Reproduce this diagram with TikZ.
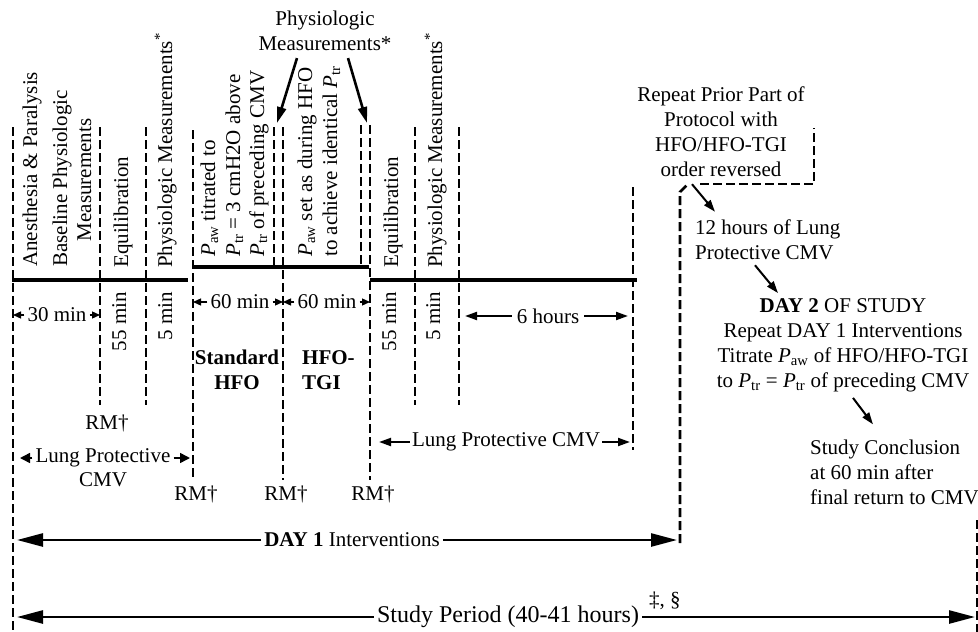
\documentclass[tikz,border=0pt]{standalone}
\usepackage{fontspec}
\setmainfont{Liberation Serif}
\usepackage{tikz}
\usetikzlibrary{arrows.meta,positioning,calc}
\newcommand{\Paw}{\textit{P}\textsubscript{aw}}
\newcommand{\Ptr}{\textit{P}\textsubscript{tr}}
\tikzset{
  txt/.style={font=\fontsize{21}{25}\selectfont, inner sep=0pt, align=center},
  boldtxt/.style={txt, font=\fontsize{21}{25}\selectfont\bfseries},
  vtxt/.style={txt, rotate=90, text height=14.5pt, text depth=4.5pt},
  phase/.style={vtxt, anchor=west},
  dur/.style={vtxt, anchor=east},
  bar/.style={line width=4pt},
  guide/.style={line width=2.6pt, dash pattern=on 9pt off 4pt},
  tinyarrow/.style={-{Triangle[length=8pt,width=7pt]}, line width=1.3pt},
  lpcarrow/.style={-{Triangle[length=10pt,width=10pt]}, line width=1.5pt},
  midarrow/.style={-{Triangle[length=12pt,width=8pt]}, line width=2pt},
  bigarrow/.style={-{Triangle[length=26pt,width=13pt]}, line width=2.6pt},
  callout/.style={-{Triangle[length=16pt,width=9pt]}, line width=2.6pt},
  flowarrow/.style={-{Triangle[length=12pt,width=8pt]}, line width=2pt}
}
\begin{document}
\begin{tikzpicture}[x=1pt,y=-1pt]
  \useasboundingbox (0,0) rectangle (978,632);

  \coordinate (b0) at (13,0);
  \coordinate (b1) at (100,0);
  \coordinate (b3) at (193,0);
  \coordinate (b4) at (283,0);
  \coordinate (b5) at (370,0);
  \coordinate (b7) at (459,0);
  \coordinate (b8) at (633,0);
  \coordinate (b9) at (680,0);
  \coordinate (b10) at (977,0);

  \draw[bar] (12,280) -- (188,280);
  \draw[bar] (192,267) -- (369,267);
  \draw[bar] (370,280) -- (637,280);

  \draw[guide] (13,127) -- (13,632);
  \draw[guide] (100,127) -- (100,405);
  \draw[guide] (146,127) -- (146,405);
  \draw[guide] (193,130) -- (193,480);
  \draw[guide] (274,127) -- (274,267);
  \draw[guide] (283,127) -- (283,480);
  \draw[guide] (361,125) -- (361,267);
  \draw[guide] (370,125) -- (370,480);
  \draw[guide] (415,127) -- (415,405);
  \draw[guide] (459,127) -- (459,405);
  \draw[guide] (633,187) -- (633,450);
  \draw[guide] (680,543) -- (680,192) -- (688,184);
  \draw[guide] (700,184) -- (814,184) -- (814,128);
  \draw[guide] (977,520) -- (977,632);

  \node[phase] (anest) at (32,267) {Anesthesia \& Paralysis};
  \node[phase] (basel) at (62,267) {Baseline Physiologic};
  \node[vtxt] (basem) at (86,180) {Measurements};
  \node[phase] (equila) at (123,268) {Equilibration};
  \node[phase] (physa) at (167,268) {Physiologic Measurements\textsuperscript{*}};
  \node[phase] (titra) at (210,257) {\Paw{} titrated to};
  \node[phase] (titrb) at (235,257) {\Ptr{} = 3 cmH2O above};
  \node[phase] (titrc) at (259,257) {\Ptr{} of preceding CMV};
  \node[phase] (tgia) at (307,257) {\Paw{} set as during HFO};
  \node[phase] (tgib) at (332,257) {to achieve identical \Ptr};
  \node[phase] (equilb) at (393,268) {Equilibration};
  \node[phase] (physb) at (437,268) {Physiologic Measurements\textsuperscript{*}};

  \node[txt] (pm) at (325,31) {Physiologic\\Measurements*};
  \coordinate (pmL) at (277,123);
  \coordinate (pmR) at (367,123);
  \draw[callout] ([shift={(-28,7)}]pm.south) -- (pmL);
  \draw[callout] ([shift={(23,7)}]pm.south) -- (pmR);

  \node[txt, fill=white, inner xsep=3pt] (min30) at (57,315) {30 min};
  \draw[tinyarrow] (min30.west) -- (min30 -| b0);
  \draw[tinyarrow] (min30.east) -- (min30 -| b1);
  \node[dur] (eqmina) at (121,292) {55 min};
  \node[dur] (pmmina) at (167,292) {5 min};
  \node[txt, fill=white, inner xsep=3pt] (min60a) at (240,302) {60 min};
  \draw[tinyarrow] (min60a.west) -- (min60a -| b3);
  \draw[tinyarrow] (min60a.east) -- (min60a -| b4);
  \node[txt, fill=white, inner xsep=3pt] (min60b) at (327,302) {60 min};
  \draw[tinyarrow] (min60b.west) -- (min60b -| b4);
  \draw[tinyarrow] (min60b.east) -- (min60b -| b5);
  \node[dur] (eqminb) at (391,292) {55 min};
  \node[dur] (pmminb) at (435,292) {5 min};
  \node[txt] (hours) at (548,316) {6 hours};
  \draw[midarrow, shorten <=5pt, shorten >=6pt] (hours.west) -- (hours -| b7);
  \draw[midarrow, shorten <=5pt, shorten >=5pt] (hours.east) -- (hours -| b8);

  \node[boldtxt] (std) at (237,370) {Standard\\HFO};
  \node[boldtxt, align=left, anchor=west] (tgi) at (302,370) {HFO-\\TGI};

  \node[txt] (rma) at (107,423) {RM†};
  \node[txt] (rmb) at (196,494) {RM†};
  \node[txt] (rmc) at (286,494) {RM†};
  \node[txt] (rmd) at (373,494) {RM†};

  \node[txt] (lpca) at (103,458) {Lung Protective};
  \node[txt, below=5pt of lpca] (lpcb) {CMV};
  \draw[lpcarrow, shorten <=3pt, shorten >=7pt] (lpca.west) -- (lpca -| b0);
  \draw[lpcarrow, shorten <=3pt, shorten >=3pt] (lpca.east) -- (lpca -| b3);
  \node[txt] (lpcr) at (506,442) {Lung Protective CMV};
  \draw[midarrow, shorten <=2pt, shorten >=9pt] (lpcr.west) -- (lpcr -| b5);
  \draw[midarrow, shorten <=2pt, shorten >=3pt] (lpcr.east) -- (lpcr -| b8);

  \node[txt] (dayone) at (352,540) {\textbf{DAY 1} Interventions};
  \draw[bigarrow, shorten <=3pt, shorten >=4pt] (dayone.west) -- (dayone -| b0);
  \draw[bigarrow, shorten <=3pt, shorten >=3pt] (dayone.east) -- (dayone -| b9);
  \node[txt, font=\fontsize{24}{28}\selectfont] (study) at (508,617) {Study Period (40-41 hours)};
  \node[txt, anchor=west] (fnote) at (649,601) {‡, §};
  \draw[bigarrow, shorten <=3pt, shorten >=4pt] (study.west) -- (study -| b0);
  \draw[bigarrow, shorten <=3pt, shorten >=2pt] (study.east) -- (study -| b10);

  \node[txt] (rep) at (721,132) {Repeat Prior Part of\\Protocol with\\HFO/HFO-TGI\\order reversed};
  \node[txt, align=left, anchor=west] (twelve) at (695,240) {12 hours of Lung\\Protective CMV};
  \node[txt] (daytwo) at (843,345) {\textbf{DAY 2} OF STUDY\\Repeat DAY 1 Interventions\\Titrate \Paw{} of HFO/HFO-TGI\\to \Ptr{} = \Ptr{} of preceding CMV};
  \node[txt, align=left, anchor=west] (concl) at (810,472) {Study Conclusion\\at 60 min after\\final return to CMV};
  \draw[flowarrow] ([shift={(-29,7)}]rep.south) -- ([shift={(20,-8)}]twelve.north west);
  \draw[flowarrow] ([shift={(60,5)}]twelve.south west) -- ([shift={(-65,-5)}]daytwo.north);
  \draw[flowarrow] ([shift={(10,6)}]daytwo.south) -- ([shift={(63,-15)}]concl.north west);
\end{tikzpicture}
\end{document}
